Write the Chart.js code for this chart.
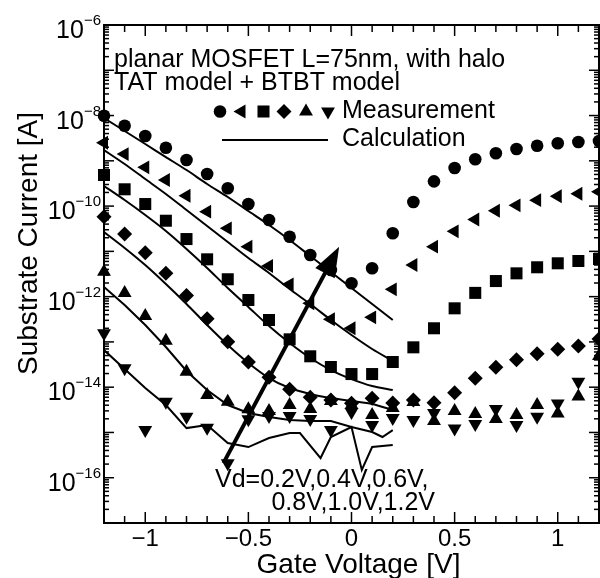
<!DOCTYPE html>
<html><head><meta charset="utf-8">
<script src="https://cdn.jsdelivr.net/npm/chart.js@4.4.1/dist/chart.umd.min.js"></script>
<style>html,body{margin:0;padding:0;background:#fff}canvas{display:block}</style>
</head><body>
<canvas id="c" width="600" height="578"></canvas>
<script>
// ---------- data ----------
const gateV = [-1.2,-1.1,-1.0,-0.9,-0.8,-0.7,-0.6,-0.5,-0.4,-0.3,-0.2,-0.1,0,0.1,0.2,0.3,0.4,0.5,0.6,0.7,0.8,0.9,1.0,1.1,1.2];
const meas12 = [9.9e-9,5.97e-9,3.53e-9,1.95e-9,1.04e-9,5.12e-10,2.47e-10,1.11e-10,4.93e-11,2.11e-11,8.30e-12,3.87e-12,1.97e-12,4.23e-12,2.51e-11,1.23e-10,3.52e-10,6.93e-10,1.08e-9,1.47e-9,1.82e-9,2.16e-9,2.44e-9,2.60e-9,2.74e-9];
const meas10 = [2.51e-9,1.41e-9,7.19e-10,3.77e-10,1.69e-10,7.52e-11,3.23e-11,1.27e-11,4.74e-12,1.87e-12,7.11e-13,3.16e-13,2.00e-13,3.49e-13,1.45e-12,4.99e-12,1.27e-11,2.77e-11,5.06e-11,7.87e-11,1.04e-10,1.35e-10,1.65e-10,1.87e-10,2.07e-10];
const meas08 = [4.86e-10,2.35e-10,1.11e-10,4.75e-11,1.87e-11,6.67e-12,2.42e-12,8.42e-13,3.05e-13,1.14e-13,4.81e-14,2.79e-14,1.95e-14,1.95e-14,3.60e-14,7.59e-14,2.00e-13,5.52e-13,1.21e-12,2.21e-12,3.27e-12,4.45e-12,5.45e-12,6.12e-12,6.78e-12];
const meas06 = [5.82e-11,2.42e-11,9.33e-12,3.27e-12,1.06e-12,3.24e-13,1.01e-13,3.60e-14,1.65e-14,8.97e-15,5.97e-15,5.20e-15,4.40e-15,5.67e-15,4.47e-15,5.20e-15,4.54e-15,7.55e-15,1.57e-14,2.75e-14,4.04e-14,5.48e-14,6.86e-14,8.11e-14,1.16e-13];
const meas04 = [3.55e-12,1.20e-12,3.73e-13,1.06e-13,2.20e-14,6.71e-15,4.78e-15,3.24e-15,2.97e-15,4.04e-15,3.30e-15,4.94e-15,4.04e-15,2.43e-15,3.47e-15,4.70e-15,1.79e-15,2.97e-15,2.55e-15,1.98e-15,2.43e-15,4.04e-15,2.62e-15,6.22e-15,4.88e-14];
const meas02 = [1.55e-13,2.61e-14,1.13e-15,4.78e-15,2.22e-15,1.27e-15,2.08e-16,1.95e-15,2.31e-15,2.31e-15,1.98e-15,1.13e-15,2.82e-15,1.46e-15,2.08e-15,1.88e-15,2.69e-15,1.23e-15,1.53e-15,3.30e-15,1.46e-15,2.22e-15,4.35e-15,1.32e-14,null];

const calcV = [-1.2,-1.1,-1.0,-0.9,-0.8,-0.7,-0.6,-0.5,-0.4,-0.3,-0.2,-0.1,0,0.1,0.2];
const calc12 = [8.83e-9,4.55e-9,2.35e-9,1.21e-9,6.26e-10,3.08e-10,1.59e-10,7.78e-11,3.82e-11,1.78e-11,7.89e-12,3.50e-12,1.55e-12,6.87e-13,3.05e-13];
const calc10 = [1.73e-9,8.51e-10,3.96e-10,1.85e-10,8.19e-11,3.63e-11,1.61e-11,7.13e-12,3.33e-12,1.47e-12,6.87e-13,3.05e-13,1.42e-13,6.97e-14,3.78e-14];
const calc08 = [2.78e-10,1.36e-10,6.35e-11,2.82e-11,1.13e-11,4.29e-12,1.55e-12,5.90e-13,2.24e-13,9.44e-14,4.41e-14,2.39e-14,1.51e-14,1.06e-14,8.65e-15];
const calc06 = [2.67e-11,1.19e-11,4.99e-12,1.90e-12,6.87e-13,2.36e-13,8.53e-14,3.42e-14,1.59e-14,9.57e-15,7.06e-15,5.75e-15,4.94e-15,4.25e-15,3.13e-15];
const calc04V = [-1.2,-1.1,-1.0,-0.9,-0.8,-0.7,-0.6,-0.5,-0.4,-0.3,-0.2,-0.1,0,0.1,0.15,0.2];
const calc04 = [1.63e-12,6.53e-13,2.36e-13,7.71e-14,2.28e-14,8.65e-15,4.04e-15,2.69e-15,2.19e-15,1.88e-15,1.79e-15,1.79e-15,1.32e-15,1.02e-15,7.93e-16,1.13e-15];
const calc02V = [-1.2,-1.1,-1.0,-0.9,-0.8,-0.7,-0.6,-0.5,-0.4,-0.3,-0.25,-0.15,-0.1,0,0.05,0.1,0.2];
const calc02 = [6.62e-14,2.52e-14,9.57e-15,4.04e-15,1.25e-15,1.46e-15,5.83e-16,4.76e-16,7.53e-16,9.70e-16,9.70e-16,2.72e-16,7.93e-16,1.32e-15,1.48e-16,4.76e-16,5.27e-16];

// ticks
const xTickValues = [-1.2,-1.1,-1.0,-0.9,-0.8,-0.7,-0.6,-0.5,-0.4,-0.3,-0.2,-0.1,0,0.1,0.2,0.3,0.4,0.5,0.6,0.7,0.8,0.9,1.0,1.1,1.2];
const xLabelValues = [-1,-0.5,0,0.5,1];
const xLabelTexts = ['\u22121','\u22120.5','0','0.5','1'];
const yDecades = [-17,-16,-15,-14,-13,-12,-11,-10,-9,-8,-7,-6];
const yMinorMult = [2,3,4,5,6,7,8,9];
const yLabelDecades = [-16,-14,-12,-10,-8,-6];
const yLabelExps = ['\u221216','\u221214','\u221212','\u221210','\u22128','\u22126'];

// annotation
const arrowTail = {x: -0.621, y: 2.1e-16};
const arrowTip = {x: -0.06, y: 1.27e-11};
const noteLines = ['planar MOSFET L=75nm, with halo', 'TAT model + BTBT model'];
const legendMeas = 'Measurement';
const legendCalc = 'Calculation';
const vdLines = ['Vd=0.2V,0.4V,0.6V,', '0.8V,1.0V,1.2V'];
const xTitle = 'Gate Voltage [V]';
const yTitle = 'Substrate Current [A]';

// ---------- build ----------
const F = '"Liberation Sans", Arial, Helvetica, sans-serif';
const pts = (xs, ys) => xs.map((x, i) => ({x: x, y: ys[i]}));
const yTickValues = [];
yDecades.forEach(d => { yTickValues.push(Math.pow(10, d)); if (d < -6) yMinorMult.forEach(m => yTickValues.push(m * Math.pow(10, d))); });

const markerStyles = [
  {style: 'circle', r: 6.3, rot: 0},
  {style: 'triangle', r: 8, rot: -90},
  {style: 'rect', r: 8.5, rot: 0},
  {style: 'rectRot', r: 7.5, rot: 0},
  {style: 'triangle', r: 8, rot: 0},
  {style: 'triangle', r: 8, rot: 180}
];
const measSeries = [meas12, meas10, meas08, meas06, meas04, meas02];
const measNames = ['1.2V','1.0V','0.8V','0.6V','0.4V','0.2V'];
const datasets = [];
[[calcV,calc12,0.25],[calcV,calc10,0.25],[calcV,calc08,0.25],[calcV,calc06,0.25],[calc04V,calc04,0],[calc02V,calc02,0]].forEach((c, i) => {
  datasets.push({label: 'calc ' + measNames[i], data: pts(c[0], c[1]), borderColor: '#000', borderWidth: 2,
    pointRadius: 0, tension: c[2], fill: false, showLine: true});
});
measSeries.forEach((s, i) => {
  const m = markerStyles[i];
  datasets.push({label: 'meas ' + measNames[i], data: pts(gateV, s), showLine: false,
    pointStyle: m.style, pointRadius: m.r, pointRotation: m.rot,
    pointBackgroundColor: '#000', pointBorderColor: '#000', pointBorderWidth: 0, clip: false});
});

function line(ctx, x1, y1, x2, y2) { ctx.beginPath(); ctx.moveTo(x1, y1); ctx.lineTo(x2, y2); ctx.stroke(); }

const decor = {
  id: 'decor',
  afterDatasetsDraw(chart) {
    const {ctx, scales: {x, y}} = chart;
    const x1 = x.getPixelForValue(arrowTail.x), y1 = y.getPixelForValue(arrowTail.y);
    const x2 = x.getPixelForValue(arrowTip.x), y2 = y.getPixelForValue(arrowTip.y);
    const len = Math.hypot(x2 - x1, y2 - y1), ux = (x2 - x1) / len, uy = (y2 - y1) / len;
    const hl = 30, hw = 11;
    const bx = x2 - ux * hl, by = y2 - uy * hl;
    ctx.save();
    ctx.strokeStyle = '#000'; ctx.fillStyle = '#000'; ctx.lineWidth = 4; ctx.lineCap = 'butt';
    line(ctx, x1, y1, bx + ux * 2, by + uy * 2);
    ctx.beginPath(); ctx.moveTo(x2, y2); ctx.lineTo(bx - uy * hw, by + ux * hw); ctx.lineTo(bx + uy * hw, by - ux * hw); ctx.closePath(); ctx.fill();
    ctx.restore();
  },
  afterDraw(chart) {
    const {ctx, chartArea: a, scales: {x, y}} = chart;
    ctx.save();
    ctx.strokeStyle = '#000'; ctx.fillStyle = '#000';
    ctx.lineWidth = 2;
    ctx.strokeRect(a.left, a.top, a.right - a.left, a.bottom - a.top);
    ctx.lineWidth = 1.5;
    xTickValues.forEach(v => {
      const px = x.getPixelForValue(v);
      const major = xLabelValues.some(u => Math.abs(u - v) < 1e-6);
      const L = major ? 11 : 7;
      line(ctx, px, a.bottom, px, a.bottom - L);
      line(ctx, px, a.top, px, a.top + L);
    });
    yTickValues.forEach(v => {
      const py = y.getPixelForValue(v);
      const e = Math.log10(v);
      const major = Math.abs(e - Math.round(e)) < 1e-6;
      const L = major ? 10 : 5;
      line(ctx, a.left, py, a.left + L, py);
      line(ctx, a.right, py, a.right - L, py);
    });
    // y tick labels with superscript exponent
    ctx.textBaseline = 'alphabetic';
    yLabelDecades.forEach((d, i) => {
      const py = y.getPixelForValue(Math.pow(10, d));
      ctx.font = '15px ' + F; ctx.textAlign = 'right';
      const ex = yLabelExps[i];
      const exW = ctx.measureText(ex).width;
      const right = 101;
      ctx.fillText(ex, right, py);
      ctx.font = '25px ' + F;
      ctx.fillText('10', right - exW, py + 13);
    });
    // annotation text
    ctx.textAlign = 'left';
    ctx.font = '25px ' + F;
    ctx.fillText(noteLines[0], 114, 66.5);
    ctx.fillText(noteLines[1], 114, 90);
    // legend
    const lx = [220, 241.5, 263.5, 284, 306, 328];
    markerStyles.forEach((m, i) => {
      ctx.fillStyle = '#000';
      Chart.helpers.drawPoint(ctx, {pointStyle: m.style, radius: m.r, rotation: m.rot, borderWidth: 0}, lx[i], 111.5);
    });
    ctx.fillText(legendMeas, 342, 118);
    ctx.lineWidth = 2;
    line(ctx, 222, 140, 328, 140);
    ctx.fillText(legendCalc, 342, 146);
    // Vd text
    ctx.fillText(vdLines[0], 215, 486.5);
    ctx.textAlign = 'right';
    ctx.fillText(vdLines[1], 435, 510);
    // axis titles
    ctx.font = '28px ' + F;
    ctx.textAlign = 'center';
    ctx.fillText(xTitle, 358.5, 573);
    ctx.save();
    ctx.translate(37, 243.5);
    ctx.rotate(-Math.PI / 2);
    ctx.fillText(yTitle, 0, 0);
    ctx.restore();
    ctx.restore();
  }
};

new Chart(document.getElementById('c').getContext('2d'), {
  type: 'line',
  data: {datasets: datasets},
  options: {
    responsive: false, animation: false, devicePixelRatio: 1,
    layout: {autoPadding: false, padding: {top: 25, right: 1, left: 0, bottom: 0}},
    plugins: {legend: {display: false}, tooltip: {enabled: false}},
    scales: {
      x: {type: 'linear', min: -1.2, max: 1.2,
        grid: {display: false, drawTicks: false}, border: {display: false},
        afterBuildTicks: s => { s.ticks = xTickValues.map(v => ({value: v})); },
        ticks: {autoSkip: false, maxRotation: 0, minRotation: 0, padding: 2, color: '#000', font: {family: F, size: 24},
          callback: v => { const i = xLabelValues.findIndex(u => Math.abs(u - v) < 1e-6); return i >= 0 ? xLabelTexts[i] : ''; }},
        afterFit: s => { s.height = 55; s.paddingLeft = 0; s.paddingRight = 0; }},
      y: {type: 'logarithmic', min: 1e-17, max: 1e-6,
        grid: {display: false, drawTicks: false}, border: {display: false},
        afterBuildTicks: s => { s.ticks = yTickValues.map(v => ({value: v})); },
        ticks: {display: false},
        afterFit: s => { s.width = 104; s.paddingTop = 0; s.paddingBottom = 0; }}
    }
  },
  plugins: [decor]
});
</script>
</body></html>
